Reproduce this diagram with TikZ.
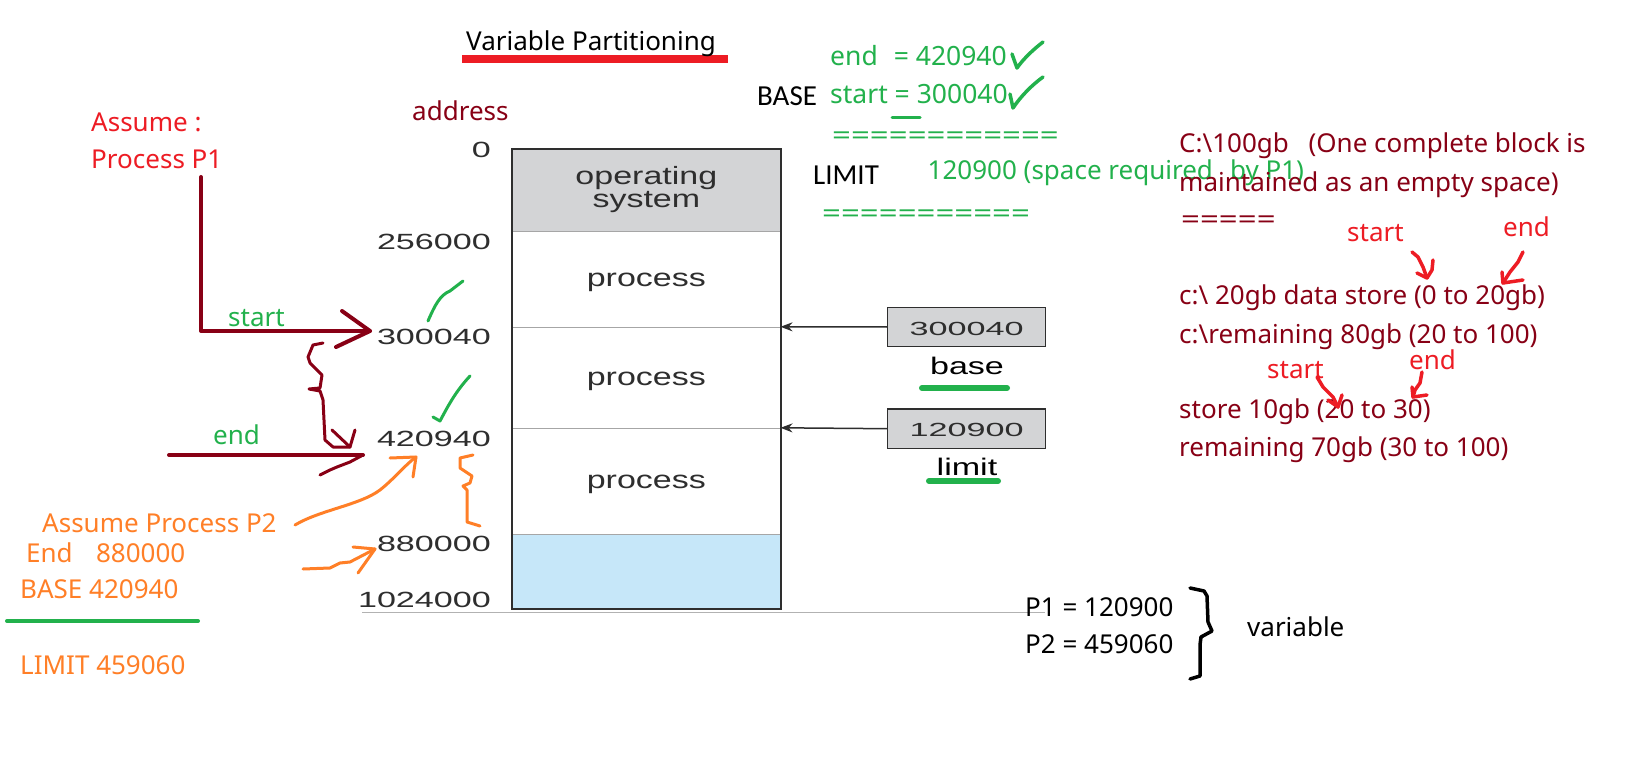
\documentclass[tikz,border=0pt]{standalone}
\usepackage{fontspec}
\setmainfont{Noto Sans}
\newfontfamily\arialf{Liberation Sans}
\newfontfamily\calf{Carlito}
\usetikzlibrary{arrows.meta}
\definecolor{dred}{HTML}{880015}
\definecolor{pred}{HTML}{ED1C24}
\definecolor{pgreen}{HTML}{22B14C}
\definecolor{porange}{HTML}{FF7F27}
\definecolor{osgray}{HTML}{D3D4D6}
\definecolor{freeblue}{HTML}{C6E7F9}
\definecolor{boxline}{HTML}{2E2E2E}
\newcommand\wx[2]{\scalebox{#1}[1]{#2}}
\newcommand\eqs{\scalebox{1.27}[1]{=}}
\tikzset{
  txt/.style={inner sep=0pt, anchor=base west, font=\fontsize{26}{30}\selectfont},
  memcell/.style={draw=gray!70, line width=1pt, minimum width=267.3pt, inner sep=0pt, font=\arialf\fontsize{25}{23}\selectfont, text=boxline},
  memtext/.style={inner sep=0pt, anchor=base, font=\arialf\fontsize{25}{23}\selectfont, text=boxline},
  addr/.style={inner sep=0pt, anchor=east, font=\arialf\fontsize{22}{24}\selectfont, text=boxline},
  regbox/.style={draw=boxline, fill=osgray, line width=1.5pt, minimum width=158pt, minimum height=39.4pt, inner sep=0pt},
  regnum/.style={inner sep=0pt, anchor=base, font=\arialf\fontsize{19}{22}\selectfont, text=boxline},
  reglabel/.style={inner sep=0pt, anchor=base, font=\arialf\fontsize{24}{24}\selectfont, text=black},
  pen/.style={line cap=round, line join=round},
}
\begin{document}
\begin{tikzpicture}[x=1pt,y=-1pt]
\useasboundingbox (0,0) rectangle (1634,762);
\fill[white] (0,0) rectangle (1634,762);

% title
\fill[pred] (462,55) rectangle (728,63);
\node[txt] (title) at (466,51) {Variable Partitioning};

% memory
\node[memcell, fill=osgray, minimum height=81.7pt] (os) at (646.35,190.85) {};
\node[memcell, fill=white, minimum height=95.6pt] (pa) at (646.35,279.5) {};
\node[memcell, fill=white, minimum height=101pt] (pb) at (646.35,377.8) {};
\node[memcell, fill=white, minimum height=106pt] (pc) at (646.35,481.3) {};
\node[memcell, fill=freeblue, minimum height=74pt] (fr) at (646.35,571.3) {};
\draw[boxline, line width=2pt] (os.north west) rectangle (fr.south east);
\node[memtext] (ostxt1) at (646.35,185) {\wx{1.36}{operating}};
\node[memtext] (ostxt2) at (646.35,208) {\wx{1.36}{system}};
\node[memtext] (patxt) at (646.35,286.7) {\wx{1.36}{process}};
\node[memtext] (pbtxt) at (646.35,385) {\wx{1.36}{process}};
\node[memtext] (pctxt) at (646.35,488.3) {\wx{1.36}{process}};
\draw[gray!60, line width=1pt] (362,612) -- (1045,612);

% addresses
\node[addr] (a0) at (491,150) {\wx{1.55}{0}};
\node[addr] (a1) at (491,242) {\wx{1.55}{256000}};
\node[addr] (a2) at (491,337) {\wx{1.55}{300040}};
\node[addr] (a3) at (491,439) {\wx{1.55}{420940}};
\node[addr] (a4) at (491,544) {\wx{1.55}{880000}};
\node[addr] (a5) at (491,600) {\wx{1.55}{1024000}};
\node[txt, text=dred] (address) at (412,121) {address};

% base / limit registers
\node[regbox] (base) at (966.7,327) {};
\node[regbox] (limit) at (966.7,428.7) {};
\node[regnum] (basenum) at (966.7,335) {\wx{1.8}{300040}};
\node[regnum] (limitnum) at (966.7,436) {\wx{1.8}{120900}};
\draw[boxline, line width=1.5pt, -{Stealth[length=12pt,width=9pt]}] (base.west) -- (pb.north east);
\draw[boxline, line width=1.5pt, -{Stealth[length=12pt,width=9pt]}] (limit.west) -- (pc.north east);
\node[reglabel] (baselbl) at (967,374) {\wx{1.42}{base}};
\node[reglabel] (limitlbl) at (967,475) {\wx{1.42}{limit}};
\draw[pgreen, line width=6pt, line cap=round] (922,388) -- (1007,388);
\draw[pgreen, line width=6pt, line cap=round] (929,481) -- (998,481);

% left annotations P1
\node[txt, text=pred] (assume) at (91,131.5) {Assume :};
\node[txt, text=pred] (proc1) at (91,169) {Process P1};
\draw[dred, line width=4pt, pen] (201,177) -- (201,331) -- (370,331);
\draw[dred, line width=4pt, pen] (342,311) -- (370,331) -- (336,347);
\node[txt, text=pgreen] (startlbl) at (228,326.5) {start};
\draw[dred, line width=4pt, pen] (169,455) -- (363,455);
\draw[dred, line width=3pt, pen] (320,475) -- (330,470) -- (337,467) -- (350,462) -- (363,455);
\node[txt, text=pgreen] (endlbl) at (213,444) {end};
% brace arrow
\draw[dred, line width=3pt, pen] (323,343) -- (313,345) -- (308,357) -- (310,363) -- (322,375) -- (320,388) -- (309,389) -- (320,391) -- (323,400) -- (325,440) -- (333,447) -- (350,447);
\draw[dred, line width=3pt, pen] (332,430) -- (350,447) -- (355,430);

% green checks near addresses
\draw[pgreen, line width=3pt, pen] (428,321) .. controls (435,305) and (440,295) .. (450,291) -- (463,281);
\draw[pgreen, line width=3pt, pen] (433,417) -- (440,421) .. controls (447,408) and (455,392) .. (470,376);

% orange annotations P2
\node[txt, text=porange] (assume2) at (42,532.5) {Assume Process P2};
\node[txt, text=porange] (end2) at (26,562) {End\hspace{0.9em}880000};
\node[txt, text=porange] (base2) at (20,598) {BASE 420940};
\draw[pgreen, line width=4pt, line cap=round] (7,621) -- (198,621);
\node[txt, text=porange] (limit2) at (20,674) {LIMIT 459060};
\draw[porange, line width=3pt, pen] (295,525) .. controls (320,510) and (360,505) .. (380,490) .. controls (395,478) and (405,465) .. (416,457);
\draw[porange, line width=3pt, pen] (390,458) -- (416,457) -- (413,477);
\draw[porange, line width=3pt, pen] (473,455) -- (460,458) -- (460,468) -- (472,476) -- (470,483) -- (463,486) -- (467,490) -- (467,522) -- (480,526);
\draw[porange, line width=3pt, pen] (303,569) -- (330,568) -- (340,563) -- (350,562) -- (375,549);
\draw[porange, line width=3pt, pen] (353,547) -- (375,549) -- (358,573);

% top right green/black
\node[txt, text=pgreen, font=\fontsize{26.5}{30}\selectfont] (endeq) at (830,66) {end\hspace{16pt}= 420940};
\node[txt, text=pgreen, font=\fontsize{26.5}{30}\selectfont] (starteq) at (830,104) {start = 300040};
\node[txt, font=\calf\fontsize{29}{30}\selectfont] (BASE) at (757,106) {BASE};
\draw[pgreen, line width=3pt, line cap=round] (892,118) -- (920,118);
\draw[pgreen, line width=3.5pt, pen] (1012,54) -- (1017,68) .. controls (1024,58) and (1034,49) .. (1043,42);
\draw[pgreen, line width=3.5pt, pen] (1010,94) -- (1013,108) .. controls (1021,96) and (1032,85) .. (1043,77);
\node[txt, text=pgreen] (eqA) at (832,145) {\eqs\eqs\eqs\eqs\eqs\eqs\eqs\eqs\eqs\eqs\eqs\eqs};
\node[txt, font=\calf\fontsize{29}{30}\selectfont] (LIMIT) at (813,185) {LIMIT};
\node[txt, text=pgreen] (limv) at (927.5,180) {120900 (space required\hspace{0.4em} by P1)};
\node[txt, text=pgreen] (eqB) at (822,223) {\eqs\eqs\eqs\eqs\eqs\eqs\eqs\eqs\eqs\eqs\eqs};

% right dark red text
\node[txt, text=dred] (r1) at (1179,153) {C:\textbackslash 100gb\hspace{0.5em} (One complete block is};
\node[txt, text=dred] (r2) at (1179,191.5) {maintained as an empty space)};
\node[txt, text=dred] (r3) at (1181,229) {\eqs\eqs\eqs\eqs\eqs};
\node[txt, text=dred] (r4) at (1179,305) {c:\textbackslash\ 20gb data store (0 to 20gb)};
\node[txt, text=dred] (r5) at (1179,343) {c:\textbackslash remaining 80gb (20 to 100)};
\node[txt, text=dred] (r6) at (1179,418) {store 10gb (20 to 30)};
\node[txt, text=dred] (r7) at (1179,456.5) {remaining 70gb (30 to 100)};
\node[txt, text=pred] (rs1) at (1347,241.5) {start};
\node[txt, text=pred] (re1) at (1503,236.5) {end};
\node[txt, text=pred] (rs2) at (1267,378) {start};
\node[txt, text=pred] (re2) at (1409,369) {end};
\draw[pred, line width=3.5pt, pen] (1412,252) -- (1418,257) -- (1423,267) -- (1427,278);
\draw[pred, line width=3.5pt, pen] (1417,273) -- (1427,278) -- (1432,270) -- (1433,260);
\draw[pred, line width=3.5pt, pen] (1523,252) -- (1518,262) -- (1510,272) -- (1503,283);
\draw[pred, line width=3.5pt, pen] (1502,272) -- (1503,283) -- (1523,280);
\draw[pred, line width=3.5pt, pen] (1317,377) -- (1323,387) -- (1333,397) -- (1338,407);
\draw[pred, line width=3.5pt, pen] (1328,400) -- (1338,407) -- (1342,395);
\draw[pred, line width=3.5pt, pen] (1422,372) -- (1420,383) -- (1415,390) -- (1413,397);
\draw[pred, line width=3.5pt, pen] (1412,387) -- (1413,397) -- (1427,395);

% bottom P1/P2
\node[txt] (p1) at (1025,616.5) {P1 = 120900};
\node[txt] (p2) at (1025,653) {P2 = 459060};
\draw[black, line width=3.5pt, pen] (1190,588) -- (1204,591) -- (1207,596) -- (1208,622) -- (1212,631) -- (1201,637) -- (1200,645) -- (1200,676) -- (1190,679);
\node[txt] (variable) at (1247,636.5) {variable};
\end{tikzpicture}
\end{document}
